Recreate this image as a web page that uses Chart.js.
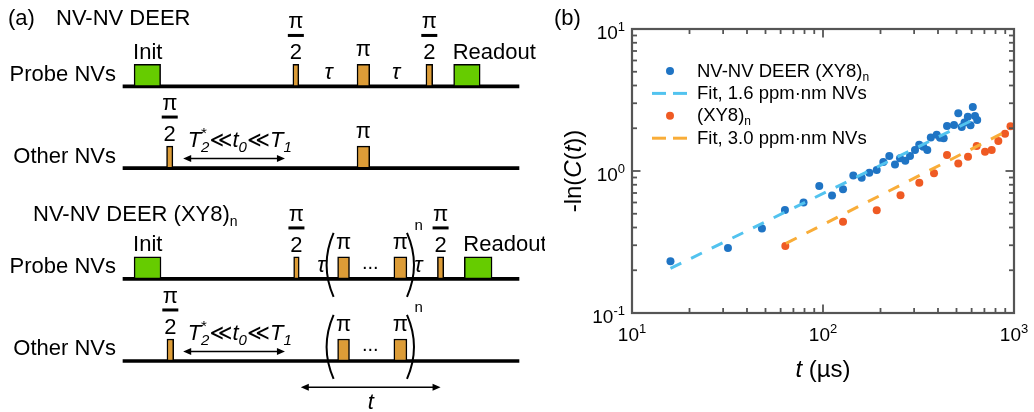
<!DOCTYPE html>
<html>
<head>
<meta charset="utf-8">
<script src="https://cdn.jsdelivr.net/npm/chart.js@4.4.1/dist/chart.umd.min.js"></script>
<style>
  body { margin: 0; background: #fff; }
  #wrap { position: relative; width: 1034px; height: 412px; }
  #seqBox { position: absolute; left: 0; top: 0; width: 545px; height: 412px; }
  #decayBox { position: absolute; left: 545px; top: 0; width: 489px; height: 412px; }
</style>
</head>
<body>
<div id="wrap">
  <div id="seqBox"><canvas id="seqChart"></canvas></div>
  <div id="decayBox"><canvas id="decayChart"></canvas></div>
</div>
<script>
// ---- (a) pulse sequences, time in arbitrary units along each channel (0-100) ----
const rowLabels = ['Probe NVs', 'Other NVs', 'Probe NVs', 'Other NVs'];
const rowLevel = [3.93, 7.64, 12.68, 16.41];          // channel baselines, in pulse heights
const laserPulses = [[0, 2.8, 9.5], [0, 83.5, 90.2], [2, 2.8, 9.6], [2, 86.2, 93.2]];   // [row, start, end]
const laserNames = ['Init', 'Readout', 'Init', 'Readout'];
const halfPiPulses = [[0, 42.9, 44.4], [0, 76.5, 78.2], [1, 11.0, 12.6], [2, 43.1, 44.5], [2, 79.4, 81.0], [3, 11.1, 12.8]];
const piPulses = [[0, 59.1, 62.3], [1, 59.1, 62.3], [2, 54.2, 57.2], [2, 68.4, 71.7], [3, 54.2, 57.2], [3, 68.4, 71.7]];
const tauMarks = [[0, 51.9], [0, 69.0], [2, 50.1], [2, 74.6]];
const xy8Blocks = [[2, 52.3, 72.6], [3, 52.3, 72.6]];   // [row, left bracket, right bracket]
const waitSpans = [[1, 15.2, 40.9], [3, 15.2, 40.9]];
const totalSpan = [3, 44.9, 80.2];

// ---- (b) DEER decay, -ln(C(t)) vs t (µs) ----
const deerT = [15.9, 31.8, 47.9, 63.2, 79.1, 95.6, 111.5, 127.3, 144.1, 159.4, 174.8, 191.1, 206.9, 222.4, 238.2, 253.0, 269.7, 285.5,
  303.2, 318.9, 335.0, 351.6, 366.8, 393.8, 409.9, 428.5, 446.0, 485.2, 510.9, 532.3, 550.6, 573.0, 592.0, 608.6, 625.0, 641.8];
const deerC = [0.231, 0.287, 0.394, 0.531, 0.600, 0.784, 0.672, 0.743, 0.930, 0.897, 0.973, 1.016, 1.157, 1.275, 1.111, 1.228, 1.180, 1.275,
  1.406, 1.532, 1.483, 1.406, 1.721, 1.801, 1.713, 1.699, 2.075, 2.108, 2.548, 2.041, 2.195, 2.412, 2.098, 2.823, 2.439, 2.287];
const xy8T = [63.5, 127.3, 191.1, 254.6, 319.3, 381.2, 446.0, 510.9, 574.4, 637.9, 705.1, 764.2, 827.9, 897.4, 958.8];
const xy8C = [0.296, 0.440, 0.530, 0.676, 0.827, 0.963, 1.296, 1.129, 1.261, 1.500, 1.368, 1.406, 1.627, 1.831, 2.065];
const deerFitT = [15.9, 618];
const deerFitC = [0.206, 2.31];
const xy8FitT = [64, 930];
const xy8FitC = [0.309, 1.93];
const xMajor = [10, 100, 1000];
const xMinor = [20, 30, 40, 50, 60, 70, 80, 90, 200, 300, 400, 500, 600, 700, 800, 900];
const yMajor = [0.1, 1, 10];
const yMinor = [0.2, 0.3, 0.4, 0.5, 0.6, 0.7, 0.8, 0.9, 2, 3, 4, 5, 6, 7, 8, 9];

const FONT = '"Liberation Sans", Arial, "DejaVu Sans", sans-serif';
const green = '#66cc00';
const amber = '#dc9c37';

// text run helpers: T(text, size, {it, dy, ov}) ; ov = start over previous run (stacked sub/sup)
function T(t, sz, o) { return Object.assign({ t, sz }, o || {}); }
function fontOf(p) { return (p.it ? 'italic ' : '') + p.sz + 'px ' + FONT; }
function drawRich(ctx, parts, x, y, align) {
  let cur = 0, prevStart = 0;
  const xs = [];
  parts.forEach(p => {
    ctx.font = fontOf(p);
    const w = ctx.measureText(p.t).width;
    const sx = p.ov ? prevStart : cur;
    xs.push(sx);
    cur = Math.max(cur, sx + w);
    prevStart = sx;
  });
  const x0 = align === 'center' ? x - cur / 2 : align === 'right' ? x - cur : x;
  ctx.textAlign = 'left';
  ctx.textBaseline = 'alphabetic';
  parts.forEach((p, i) => {
    ctx.font = fontOf(p);
    ctx.fillText(p.t, x0 + xs[i], y + (p.dy || 0));
  });
}

function hArrow(ctx, x1, x2, y) {
  const L = 8, H = 3.5;
  ctx.lineWidth = 1.5;
  ctx.beginPath(); ctx.moveTo(x1 + 4, y); ctx.lineTo(x2 - 4, y); ctx.stroke();
  ctx.beginPath(); ctx.moveTo(x1, y); ctx.lineTo(x1 + L, y - H); ctx.lineTo(x1 + L, y + H); ctx.closePath(); ctx.fill();
  ctx.beginPath(); ctx.moveTo(x2, y); ctx.lineTo(x2 - L, y - H); ctx.lineTo(x2 - L, y + H); ctx.closePath(); ctx.fill();
}

function bracket(ctx, x, yTop, yBot, dir) {
  ctx.lineWidth = 2;
  ctx.beginPath();
  ctx.moveTo(x - dir * 3.5, yTop);
  ctx.quadraticCurveTo(x + dir * 10.5, (yTop + yBot) / 2, x - dir * 3.5, yBot);
  ctx.stroke();
}

const pulseBars = (list) => list.map(p => ({ x: [p[1], p[2]], y: rowLevel[p[0]] - 0.5 }));

const seqPlugin = {
  id: 'seqLabels',
  afterDatasetsDraw(chart) {
    const ctx = chart.ctx;
    const px = t => chart.scales.x.getPixelForValue(t);
    const base = r => chart.scales.y.getPixelForValue(rowLevel[r]);
    const top = r => chart.scales.y.getPixelForValue(rowLevel[r] - 1);
    ctx.save();
    ctx.fillStyle = '#000';
    ctx.strokeStyle = '#000';

    drawRich(ctx, [T('(a)', 22)], 8, 25, 'left');
    drawRich(ctx, [T('NV-NV DEER', 22)], 56, 25, 'left');
    drawRich(ctx, [T('NV-NV DEER (XY8)', 22), T('n', 14, { dy: 5 })], 33, 221, 'left');

    rowLabels.forEach((name, r) => drawRich(ctx, [T(name, 22)], px(0) - 7, base(r) - 5.5, 'right'));

    laserPulses.forEach((p, i) => drawRich(ctx, [T(laserNames[i], 22)], px(p[1]) - 1, top(p[0]) - 5.6, 'left'));

    halfPiPulses.forEach(p => {
      const cx = px((p[1] + p[2]) / 2), y = top(p[0]);
      drawRich(ctx, [T('π', 22)], cx, y - 36, 'center');
      ctx.fillRect(cx - 8, y - 30.5, 16, 3);
      drawRich(ctx, [T('2', 22)], cx, y - 5, 'center');
    });
    piPulses.forEach(p => drawRich(ctx, [T('π', 22)], px((p[1] + p[2]) / 2), top(p[0]) - 8.3, 'center'));

    tauMarks.forEach(m => drawRich(ctx, [T('τ', 22, { it: true })], px(m[1]), base(m[0]) - 7, 'center'));

    xy8Blocks.forEach(b => {
      const y = base(b[0]);
      bracket(ctx, px(b[1]), y - 46, y + 18, -1);
      bracket(ctx, px(b[2]), y - 46, y + 18, 1);
      drawRich(ctx, [T('n', 15)], px(b[2]) + 4, y - 48.5, 'left');
      drawRich(ctx, [T('...', 20)], px((b[1] + b[2]) / 2), y - 9.5, 'center');
    });

    waitSpans.forEach(s => {
      const y = base(s[0]);
      drawRich(ctx, [
        T('T', 22, { it: true }), T('2', 15, { it: true, dy: 5 }), T('*', 15, { dy: -9, ov: true }),
        T('≪', 22), T('t', 22, { it: true }), T('0', 15, { it: true, dy: 5 }),
        T('≪', 22), T('T', 22, { it: true }), T('1', 15, { it: true, dy: 5 })
      ], px(s[1]) + 4.5, y - 21, 'left');
      hArrow(ctx, px(s[1]), px(s[2]), y - 9.5);
    });

    const yb = base(totalSpan[0]);
    hArrow(ctx, px(totalSpan[1]), px(totalSpan[2]), yb + 26.3);
    drawRich(ctx, [T('t', 22, { it: true })], px((totalSpan[1] + totalSpan[2]) / 2), yb + 48.5, 'center');
    ctx.restore();
  }
};

new Chart('seqChart', {
  type: 'bar',
  data: {
    datasets: [
      { label: 'Laser', data: pulseBars(laserPulses), backgroundColor: green },
      { label: 'π/2', data: pulseBars(halfPiPulses), backgroundColor: amber },
      { label: 'π', data: pulseBars(piPulses), backgroundColor: amber },
      { label: 'Channel', data: rowLevel.map(l => ({ x: [0, 100], y: l })), backgroundColor: '#000',
        borderWidth: 0, barThickness: 3 }
    ]
  },
  options: {
    indexAxis: 'y',
    responsive: true,
    maintainAspectRatio: false,
    animation: false,
    devicePixelRatio: 1,
    layout: { padding: 0 },
    datasets: {
      bar: { grouped: false, barThickness: 22, borderColor: '#000', borderWidth: 1.5, borderSkipped: false }
    },
    scales: {
      x: { type: 'linear', min: -31.06, max: 106.57, display: false },
      y: { type: 'linear', min: 0, max: 18.73, reverse: true, offset: false, display: false }
    },
    plugins: { legend: { display: false }, tooltip: { enabled: false } }
  },
  plugins: [seqPlugin]
});

// ---- (b) ----
const pts = (xs, ys) => xs.map((x, i) => ({ x, y: ys[i] }));

function labelParts(label, sz) {
  const [main, sub] = label.split('_');
  const parts = [T(main, sz)];
  if (sub) parts.push(T(sub, Math.round(sz * 0.65), { dy: 4 }));
  return parts;
}

const decayPlugin = {
  id: 'decayAxes',
  afterDatasetsDraw(chart) {
    const { ctx, chartArea: a } = chart;
    const xs = chart.scales.x, ys = chart.scales.y;
    ctx.save();
    ctx.strokeStyle = '#555';
    ctx.lineWidth = 1.8;
    const seg = (x1, y1, x2, y2) => { ctx.beginPath(); ctx.moveTo(x1, y1); ctx.lineTo(x2, y2); ctx.stroke(); };
    xMajor.concat(xMinor).forEach(v => {
      const len = xMajor.includes(v) ? 8.5 : 5;
      const x = xs.getPixelForValue(v);
      seg(x, a.bottom, x, a.bottom - len);
      seg(x, a.top, x, a.top + len);
    });
    yMajor.concat(yMinor).forEach(v => {
      const len = yMajor.includes(v) ? 8.5 : 5;
      const y = ys.getPixelForValue(v);
      seg(a.left, y, a.left + len, y);
      seg(a.right, y, a.right - len, y);
    });
    ctx.lineWidth = 2.2;
    ctx.strokeRect(a.left, a.top, a.right - a.left, a.bottom - a.top);

    ctx.fillStyle = '#000';
    xMajor.forEach(v => drawRich(ctx, [T('10', 19), T(String(Math.round(Math.log10(v))), 13, { dy: -8 })],
      xs.getPixelForValue(v), a.bottom + 27.5, 'center'));
    yMajor.forEach(v => drawRich(ctx, [T('10', 19), T(String(Math.round(Math.log10(v))), 13, { dy: -8 })],
      a.left - 7, ys.getPixelForValue(v) + 9.5, 'right'));

    drawRich(ctx, [T('t', 24, { it: true }), T(' (µs)', 24)], (a.left + a.right) / 2, 377, 'center');
    ctx.save();
    ctx.translate(27, (a.top + a.bottom) / 2);
    ctx.rotate(-Math.PI / 2);
    drawRich(ctx, [T('-ln(', 24), T('C', 24, { it: true }), T('(', 24), T('t', 24, { it: true }), T('))', 24)], 0, 8.5, 'center');
    ctx.restore();

    drawRich(ctx, [T('(b)', 22)], 9, 25, 'left');

    // legend inside the axes
    chart.data.datasets.forEach((ds, i) => {
      const y = a.top + 42 + i * 22.4;
      const mx = a.left + 38;
      if (ds.showLine) {
        ctx.strokeStyle = ds.borderColor;
        ctx.lineWidth = ds.borderWidth;
        seg(mx - 18, y, mx - 4, y);
        seg(mx + 3, y, mx + 17, y);
      } else {
        ctx.fillStyle = ds.backgroundColor;
        ctx.beginPath(); ctx.arc(mx, y, ds.pointRadius, 0, Math.PI * 2); ctx.fill();
      }
      ctx.fillStyle = '#000';
      drawRich(ctx, labelParts(ds.label, 18.5), a.left + 65, y + 5.5, 'left');
    });
    ctx.restore();
  }
};

new Chart('decayChart', {
  type: 'scatter',
  data: {
    datasets: [
      { label: 'NV-NV DEER (XY8)_n', data: pts(deerT, deerC), backgroundColor: '#1f74c4', pointRadius: 4,
        borderWidth: 0, showLine: false, order: 1, clip: false },
      { label: 'Fit, 1.6 ppm·nm NVs', data: pts(deerFitT, deerFitC), borderColor: '#52c3ef', borderWidth: 3,
        borderDash: [12, 11], pointRadius: 0, showLine: true, order: 0 },
      { label: '(XY8)_n', data: pts(xy8T, xy8C), backgroundColor: '#ef5a23', pointRadius: 4,
        borderWidth: 0, showLine: false, order: 1, clip: false },
      { label: 'Fit, 3.0 ppm·nm NVs', data: pts(xy8FitT, xy8FitC), borderColor: '#f9ad38', borderWidth: 3,
        borderDash: [12, 11], pointRadius: 0, showLine: true, order: 0 }
    ]
  },
  options: {
    responsive: true,
    maintainAspectRatio: false,
    animation: false,
    devicePixelRatio: 1,
    layout: { padding: { left: 87, right: 20, top: 29, bottom: 99 } },
    scales: {
      x: { type: 'logarithmic', min: 10, max: 1000, display: false },
      y: { type: 'logarithmic', min: 0.1, max: 10, display: false }
    },
    plugins: { legend: { display: false }, tooltip: { enabled: false } }
  },
  plugins: [decayPlugin]
});
</script>
</body>
</html>
